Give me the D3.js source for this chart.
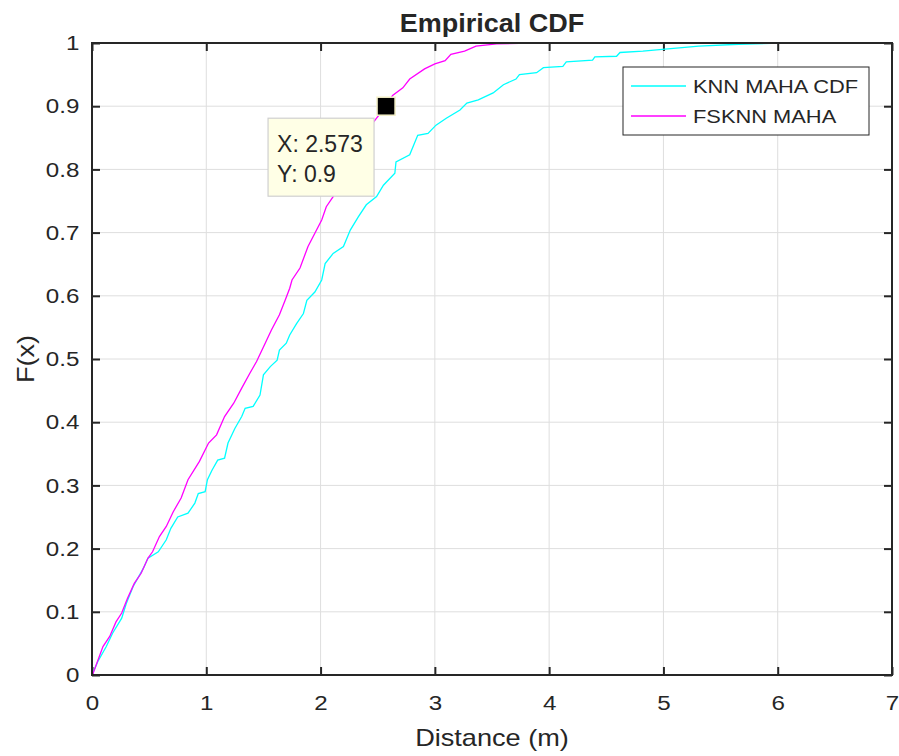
<!DOCTYPE html>
<html>
<head>
<meta charset="utf-8">
<script src="https://cdn.jsdelivr.net/npm/d3@7"></script>
<style>
  body { margin: 0; background: #fff; }
  svg text { font-family: "Liberation Sans", Arial, Helvetica, sans-serif; fill: #262626; }
</style>
</head>
<body>
<svg id="chart" width="899" height="756"></svg>
<script>
// ECDF traces: [distance, F(x)]
const knnMaha = [
  [0, 0], [0.05, 0.021], [0.125, 0.045], [0.18, 0.066], [0.26, 0.090], [0.30, 0.113],
  [0.36, 0.140], [0.45, 0.169], [0.49, 0.185], [0.58, 0.195], [0.65, 0.214], [0.69, 0.232],
  [0.75, 0.250], [0.84, 0.256], [0.90, 0.272], [0.93, 0.287], [0.99, 0.290], [1.01, 0.309],
  [1.05, 0.324], [1.10, 0.340], [1.16, 0.343], [1.19, 0.367], [1.25, 0.390], [1.31, 0.409],
  [1.34, 0.422], [1.41, 0.425], [1.47, 0.443], [1.50, 0.475], [1.56, 0.488], [1.62, 0.498],
  [1.64, 0.514], [1.70, 0.525], [1.73, 0.538], [1.79, 0.556], [1.85, 0.572], [1.88, 0.593],
  [1.95, 0.606], [2.01, 0.625], [2.04, 0.651], [2.11, 0.667], [2.20, 0.678], [2.26, 0.704],
  [2.33, 0.725], [2.40, 0.744], [2.49, 0.757], [2.55, 0.775], [2.65, 0.794], [2.66, 0.812],
  [2.78, 0.823], [2.85, 0.854], [2.94, 0.857], [3.01, 0.870], [3.10, 0.881], [3.22, 0.894],
  [3.28, 0.905], [3.38, 0.910], [3.51, 0.921], [3.60, 0.934], [3.71, 0.943], [3.74, 0.950],
  [3.89, 0.953], [3.95, 0.961], [4.12, 0.963], [4.15, 0.970], [4.38, 0.973], [4.40, 0.978],
  [4.59, 0.979], [4.62, 0.985], [4.82, 0.987], [4.99, 0.990], [5.31, 0.995], [5.66, 0.998],
  [6.03, 1.0]
];

const fsknnMaha = [
  [0, 0], [0.01, 0.003], [0.096, 0.045], [0.155, 0.061], [0.21, 0.084], [0.26, 0.098],
  [0.31, 0.121], [0.37, 0.145], [0.43, 0.161], [0.49, 0.185], [0.53, 0.195], [0.59, 0.219],
  [0.65, 0.235], [0.71, 0.258], [0.78, 0.280], [0.84, 0.309], [0.94, 0.338], [1.02, 0.367],
  [1.09, 0.380], [1.16, 0.409], [1.24, 0.430], [1.31, 0.454], [1.38, 0.477], [1.44, 0.496],
  [1.50, 0.519], [1.57, 0.546], [1.64, 0.570], [1.69, 0.593], [1.73, 0.612], [1.75, 0.625],
  [1.82, 0.644], [1.89, 0.678], [1.95, 0.699], [2.01, 0.720], [2.05, 0.741], [2.11, 0.757],
  [2.20, 0.790], [2.30, 0.830], [2.40, 0.860], [2.49, 0.881], [2.573, 0.9], [2.63, 0.917],
  [2.72, 0.929], [2.78, 0.943], [2.91, 0.959], [3.0, 0.967], [3.09, 0.972], [3.14, 0.982],
  [3.26, 0.987], [3.36, 0.995], [3.54, 0.9985], [3.83, 1.0]
];

const xTicks = [0, 1, 2, 3, 4, 5, 6, 7];
const yTicks = [0, 0.1, 0.2, 0.3, 0.4, 0.5, 0.6, 0.7, 0.8, 0.9, 1];
const seriesNames = ["KNN MAHA CDF", "FSKNN MAHA"];
const seriesColors = ["#00ffff", "#ff00ff"];
const dataTip = { x: 2.573, y: 0.9 };

const margin = { top: 43, right: 7, bottom: 81, left: 92 };
const width = 899 - margin.left - margin.right;
const height = 756 - margin.top - margin.bottom;
const stretch = 'scale(1.15,1)';  // the original text renders a bit wide

const svg = d3.select('#chart');
const g = svg.append('g').attr('transform', `translate(${margin.left},${margin.top})`);

const x = d3.scaleLinear().domain([0, 7]).range([0, width]);
const y = d3.scaleLinear().domain([0, 1]).range([height, 0]);

// grid
g.append('g').selectAll('line').data(xTicks).enter().append('line')
  .attr('x1', d => x(d)).attr('x2', d => x(d)).attr('y1', 0).attr('y2', height)
  .attr('stroke', '#dedede').attr('stroke-width', 1);
g.append('g').selectAll('line').data(yTicks).enter().append('line')
  .attr('y1', d => y(d)).attr('y2', d => y(d)).attr('x1', 0).attr('x2', width)
  .attr('stroke', '#dedede').attr('stroke-width', 1);

// axes, ticks inside on all four sides
const axisStyle = sel => {
  sel.select('.domain').remove();
  sel.selectAll('.tick line').attr('stroke', '#262626').attr('stroke-width', 2);
  sel.selectAll('.tick text').attr('fill', '#262626').attr('transform', stretch)
    .style('font-size', '21px').style('font-family', '"Liberation Sans", Arial, sans-serif');
};
g.append('g').attr('transform', `translate(0,${height})`)
  .call(d3.axisBottom(x).tickValues(xTicks).tickFormat(d3.format('d')).tickSizeInner(-8).tickPadding(20))
  .call(axisStyle);
g.append('g')
  .call(d3.axisLeft(y).tickValues(yTicks).tickFormat(d => d === 0 || d === 1 ? d : d3.format('.1f')(d)).tickSizeInner(-8).tickPadding(11))
  .call(axisStyle);
g.append('g')
  .call(d3.axisTop(x).tickValues(xTicks).tickFormat('').tickSizeInner(-8))
  .call(axisStyle);
g.append('g').attr('transform', `translate(${width},0)`)
  .call(d3.axisRight(y).tickValues(yTicks).tickFormat('').tickSizeInner(-8))
  .call(axisStyle);

// lines
const line = d3.line().x(d => x(d[0])).y(d => y(d[1]));
[knnMaha, fsknnMaha].forEach((data, i) => {
  g.append('path').datum(data)
    .attr('fill', 'none').attr('stroke', seriesColors[i]).attr('stroke-width', 1.3)
    .attr('d', line);
});

// box
g.append('rect').attr('width', width).attr('height', height)
  .attr('fill', 'none').attr('stroke', '#262626').attr('stroke-width', 2);

// data tip
g.append('rect')
  .attr('x', x(dataTip.x) - 9).attr('y', y(dataTip.y) - 9).attr('width', 18).attr('height', 18)
  .attr('fill', '#000').attr('stroke', '#f4f0c8').attr('stroke-width', 1.5);
const tip = g.append('g').attr('transform', `translate(${x(dataTip.x) - 118},${y(dataTip.y) + 12})`);
tip.append('rect').attr('width', 106).attr('height', 78)
  .attr('fill', '#ffffe6').attr('stroke', '#d0d0d0').attr('stroke-width', 1.2);
tip.append('text').attr('x', 9).attr('y', 34).style('font-size', '23px').attr('fill', '#000')
  .text(`X: ${dataTip.x}`);
tip.append('text').attr('x', 9).attr('y', 64).style('font-size', '23px').attr('fill', '#000')
  .text(`Y: ${dataTip.y}`);

// legend
const legend = g.append('g').attr('transform', `translate(${623 - margin.left},${67 - margin.top})`);
legend.append('rect').attr('width', 246).attr('height', 68)
  .attr('fill', '#fff').attr('stroke', '#262626').attr('stroke-width', 1);
seriesNames.forEach((name, i) => {
  const ly = 19 + i * 30;
  legend.append('line').attr('x1', 8).attr('x2', 63).attr('y1', ly).attr('y2', ly)
    .attr('stroke', seriesColors[i]).attr('stroke-width', 1.3);
  legend.append('text').attr('transform', `translate(70,${ly + 7}) ${stretch}`)
    .style('font-size', '19px').attr('fill', '#000')
    .text(name);
});

// title and labels
svg.append('text').attr('transform', `translate(${margin.left + width / 2},32) scale(1.08,1)`)
  .attr('text-anchor', 'middle').style('font-size', '25px').style('font-weight', 'bold').attr('fill', '#000')
  .text('Empirical CDF');
svg.append('text').attr('transform', `translate(${margin.left + width / 2},746) scale(1.18,1)`)
  .attr('text-anchor', 'middle').style('font-size', '23px')
  .text('Distance (m)');
svg.append('text').attr('transform', `translate(34,${margin.top + height / 2}) rotate(-90) scale(1.18,1)`)
  .attr('text-anchor', 'middle').style('font-size', '23px')
  .text('F(x)');
</script>
</body>
</html>
